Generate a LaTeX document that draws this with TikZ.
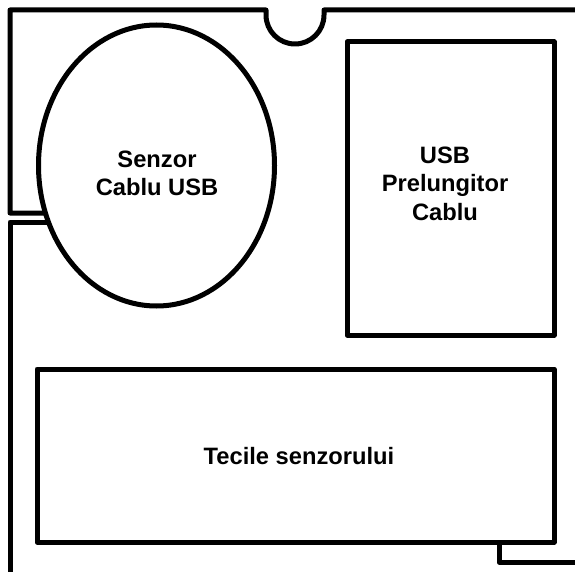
\documentclass[tikz,border=0pt]{standalone}
\usepackage{fontspec}
\setmainfont{Liberation Sans}
\usetikzlibrary{shapes.geometric}
\begin{document}
\begin{tikzpicture}[x=1pt,y=-1pt,
  wall/.style={line width=5pt,line join=round,line cap=butt},
  part/.style={draw,line width=5pt,line join=round,inner sep=0pt},
  lbl/.style={font=\bfseries\fontsize{23.7}{28.5}\selectfont,align=center,inner sep=0pt}]
\useasboundingbox[fill=white] (0,0) rectangle (575,572);
% parts
\node[part,ellipse,minimum width=236pt,minimum height=281pt] (sensor) at (156.5,165.5) {};
\node[part,rectangle,minimum width=207pt,minimum height=293pt] (usb) at (450.5,188.5) {};
\node[part,rectangle,minimum width=517pt,minimum height=173pt] (tecile) at (295.5,455.5) {};
% labels
\node[lbl] (sensortext) at (157,173.5) {Senzor\\Cablu USB};
\node[lbl] (usbtext) at (445,183.5) {USB\\Prelungitor\\Cablu};
\node[lbl] (teciletext) at (299,456) {Tecile senzorului};
% walls
\coordinate (wa) at (45.5,213);
\coordinate (wb) at (48.5,222);
\draw[wall] (wa) -- (10,213) -- (10,10) -- (266,10) -- (266,15)
  arc[start angle=180,end angle=0,radius=29] -- (324,10) -- (580,10);
\draw[wall] (wb) -- (10,222) -- (10,580);
\coordinate (c1) at (499,562);
\draw[wall] (tecile.south -| c1) -- (c1) -- (580,562);
\end{tikzpicture}
\end{document}
